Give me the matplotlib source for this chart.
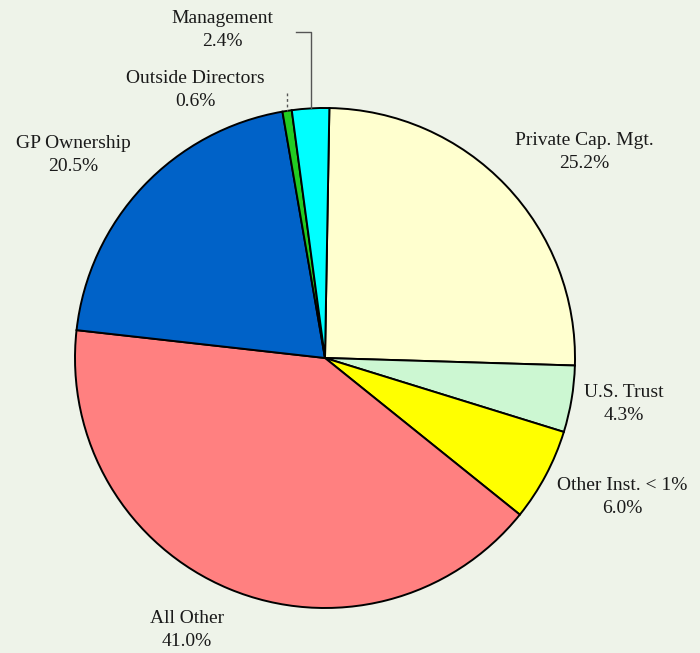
import matplotlib.pyplot as plt
import numpy as np

labels = ['Private Cap. Mgt.', 'U.S. Trust', 'Other Inst. < 1%', 'All Other',
          'GP Ownership', 'Outside Directors', 'Management']
shares = [25.2, 4.3, 6.0, 41.0, 20.5, 0.6, 2.4]
colors = ['#ffffcf', '#ccf7d2', '#ffff00', '#ff8080', '#0062c8', '#22cc22', '#00ffff']

W, H = 700, 653
bg = '#eef3e9'
start = 89
fig = plt.figure(figsize=(7, 6.53), dpi=100, facecolor=bg)
ax = fig.add_axes([0, 0, 1, 1])
ax.set_facecolor(bg)

cx, cy, r = 325, H - 358, 250
ax.pie(shares, colors=colors, startangle=start, counterclock=False,
       center=(cx, cy), radius=r, frame=True,
       wedgeprops=dict(edgecolor='black', linewidth=1.4))
ax.set_xlim(0, W)
ax.set_ylim(0, H)
ax.set_aspect('equal')
ax.axis('off')

# label centres in pixels (x, y from top)
label_pos = [(584, 152), (624, 404), (622, 497), (187, 630),
             (73, 155), (195, 90), (222, 30)]
for lab, val, (lx, ly) in zip(labels, shares, label_pos):
    ax.text(lx, H - ly, f'{lab}\n{val:.1f}%', ha='center', va='center',
            family='Liberation Serif', fontsize=14, color='#1a1a1a',
            linespacing=1.4)

# leader lines for the two thin slices
cum = np.cumsum([0] + shares)
def edge_point(i):
    ang = np.deg2rad(start - 3.6 * (cum[i] + shares[i] / 2))
    return cx + r * np.cos(ang), cy + r * np.sin(ang)

mx, my = edge_point(6)
ax.plot([mx - 15, mx, mx], [H - 32, H - 32, my], color='#555555', lw=1)
ox, oy = edge_point(5)
ax.plot([ox, ox], [H - 93, oy], color='#555555', lw=1, ls=(0, (2, 2)))

fig.savefig('out.png', dpi=100, facecolor=bg)
